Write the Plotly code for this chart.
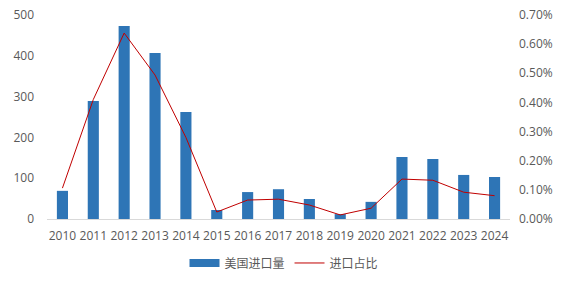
import plotly.graph_objects as go

years = ["2010", "2011", "2012", "2013", "2014", "2015", "2016", "2017",
         "2018", "2019", "2020", "2021", "2022", "2023", "2024"]
us_imports = [69, 289, 473, 407, 262, 22, 66, 73, 49, 12, 42, 152, 147, 108, 103]
import_share = [0.00106, 0.0041, 0.00638, 0.00494, 0.0028, 0.00024, 0.00065, 0.00068,
                0.00048, 0.00014, 0.00037, 0.00137, 0.00133, 0.00092, 0.0008]

BLUE = "#2E75B6"
RED = "#C00000"

fig = go.Figure()
fig.add_trace(go.Bar(x=years, y=us_imports, name="美国进口量", showlegend=False,
                     marker=dict(color=BLUE, line=dict(width=0))))
# legend entry drawn as a wide blue rectangle, as in the reference
fig.add_trace(go.Scatter(x=[None], y=[None], name="美国进口量", mode="lines",
                         line=dict(color=BLUE, width=8)))
fig.add_trace(go.Scatter(x=years, y=import_share, name="进口占比", yaxis="y2",
                         mode="lines", line=dict(color=RED, width=1)))

font = dict(family="Open Sans, Noto Sans CJK SC, sans-serif", size=12, color="#595959")
fig.update_layout(
    width=568, height=284,
    margin=dict(l=47, r=58, t=15, b=65, autoexpand=False),
    paper_bgcolor="white", plot_bgcolor="white",
    font=font,
    bargap=0.64,
    showlegend=True,
    legend=dict(orientation="h", x=0.5, xanchor="center", xref="container",
                y=0.074, yanchor="middle", yref="container",
                font=dict(size=12, color="#595959"), itemwidth=30),
    xaxis=dict(showgrid=False, showline=True, linecolor="#D9D9D9", linewidth=1,
               ticks="", tickfont=dict(size=12), ticklabelstandoff=6),
    yaxis=dict(range=[0, 500], dtick=100, showgrid=False, zeroline=False,
               ticks="", ticklabelstandoff=12),
    yaxis2=dict(range=[0, 0.007], dtick=0.001, tickformat=".2%", overlaying="y",
                side="right", showgrid=False, zeroline=False, ticks="",
                ticklabelstandoff=8),
)

fig.write_html("out.html")
